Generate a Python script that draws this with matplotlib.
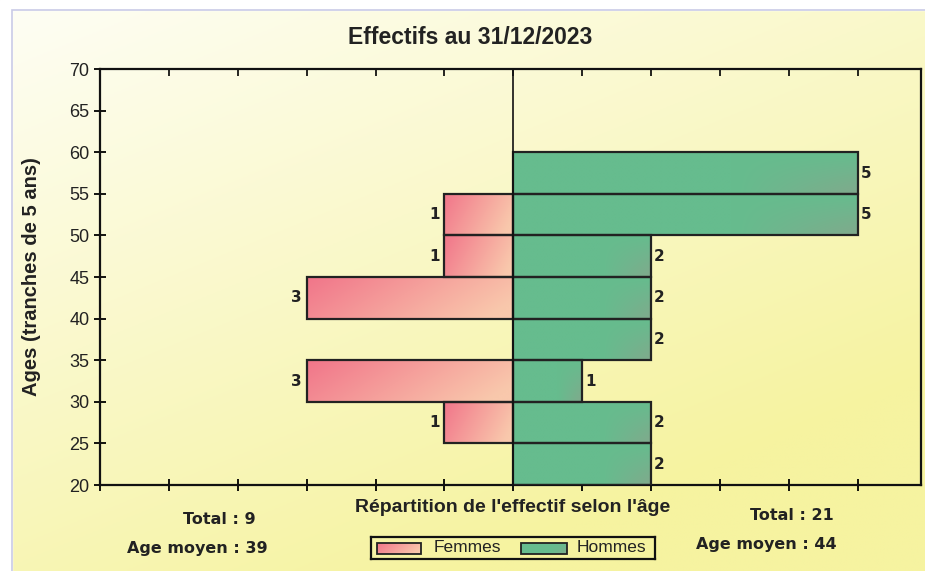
import numpy as np
import matplotlib
matplotlib.use("Agg")
import matplotlib.pyplot as plt
from matplotlib.patches import Rectangle

# ---------------- data ----------------
age_bins = [20, 25, 30, 35, 40, 45, 50, 55]          # lower bound of each 5-year band
femmes = [0, 1, 3, 0, 3, 1, 1, 0]
hommes = [2, 2, 1, 2, 2, 2, 5, 5]
title = "Effectifs au 31/12/2023"
ylabel = "Ages (tranches de 5 ans)"
xlabel = "Répartition de l'effectif selon l'âge"
total_f, age_f = 9, 39
total_h, age_h = 21, 44
yticks = [20, 25, 30, 35, 40, 45, 50, 55, 60, 65, 70]

plt.rcParams['font.family'] = ['Liberation Sans', 'DejaVu Sans']
TXT = '#222222'

W, H = 925, 571
fig = plt.figure(figsize=(W / 100, H / 100), dpi=100)

# background gradient
bg = fig.add_axes([0, 0, 1, 1], zorder=-10)
yy, xx = np.mgrid[0:1:200j, 0:1:300j]
t = np.clip(0.5 * xx + 0.75 * yy, 0, 1)  # yy=0 at top (origin upper)
c0 = np.array([254, 254, 246]) / 255
c1 = np.array([246, 243, 160]) / 255
img = c0[None, None, :] * (1 - t[..., None]) + c1[None, None, :] * t[..., None]
bg.imshow(img, extent=[0, 1, 0, 1], aspect='auto', origin='upper')
bg.set_xlim(0, 1); bg.set_ylim(0, 1)
bg.axis('off')
bg.add_patch(Rectangle((0, 1 - 10 / H), 1, 10 / H, color='white', zorder=1))
bg.add_patch(Rectangle((0, 0), 12 / W, 1, color='white', zorder=1))
bg.add_patch(Rectangle((12 / W, -0.01), 1.0, 1 - 10 / H + 0.01, fill=False,
                       edgecolor='#c9cbe6', lw=1.2, zorder=2))

ax = fig.add_axes([100 / W, 1 - 485 / H, (921 - 100) / W, (485 - 69) / H])
ax.patch.set_alpha(0)

XMIN, XMAX = -6, 5.92
BH = 5

def grad_f():
    yv, xv = np.mgrid[0:1:16j, 0:1:64j]
    a = np.clip(0.85 * xv + 0.25 * yv, 0, 1)
    left = np.array([241, 118, 138]) / 255
    right = np.array([249, 200, 172]) / 255
    return left[None, None, :] * (1 - a[..., None]) + right[None, None, :] * a[..., None]

def grad_h():
    yv, xv = np.mgrid[0:1:16j, 0:1:64j]
    s = np.clip((xv - 0.65) / 0.35, 0, 1) * yv
    base = np.array([102, 188, 142]) / 255
    dark = np.array([128, 170, 140]) / 255
    return base[None, None, :] * (1 - s[..., None]) + dark[None, None, :] * s[..., None]

gf = grad_f()
gh = grad_h()
for y0, f, h in zip(age_bins, femmes, hommes):
    if f > 0:
        ax.imshow(gf, extent=[-f, 0, y0, y0 + BH], aspect='auto', origin='upper',
                  interpolation='bilinear', zorder=2)
        ax.add_patch(Rectangle((-f, y0), f, BH, fill=False, edgecolor=TXT,
                               lw=1.6, zorder=3))
        ax.text(-f - 0.07, y0 + BH / 2, str(f), ha='right', va='center',
                fontsize=11, fontweight='bold', family='DejaVu Sans', color=TXT)
    if h > 0:
        ax.imshow(gh, extent=[0, h, y0, y0 + BH], aspect='auto', origin='upper',
                  interpolation='bilinear', zorder=2)
        ax.add_patch(Rectangle((0, y0), h, BH, fill=False, edgecolor=TXT,
                               lw=1.6, zorder=3))
        ax.text(h + 0.04, y0 + BH / 2, str(h), ha='left', va='center',
                fontsize=11, fontweight='bold', family='DejaVu Sans', color=TXT)

ax.axvline(0, color='#111111', lw=1.2, zorder=4)
ax.set_xlim(XMIN, XMAX)
ax.set_ylim(20, 70)
ax.set_yticks(yticks)
ax.set_yticklabels([str(v) for v in yticks], fontsize=13, color=TXT)
ax.set_xticks(np.arange(-6, 6, 1))
ax.set_xticklabels([])
ax.tick_params(axis='y', direction='inout', length=9, width=1.3, pad=3)
ax.tick_params(axis='x', direction='inout', length=9, width=1.3)
for s in ax.spines.values():
    s.set_linewidth(1.6)
    s.set_color('#111111')
top = ax.secondary_xaxis('top')
top.set_xticks(np.arange(-6, 6, 1))
top.set_xticklabels([])
top.tick_params(direction='in', length=5, width=1.2)
top.spines['top'].set_visible(False)

ax.set_ylabel(ylabel, fontsize=14.5, fontweight='bold', color=TXT)
ax.yaxis.set_label_coords(-0.072, 0.5)

fig.text(470 / W, 1 - 38 / H, title, ha='center', va='center', fontsize=16.5,
         fontweight='bold', color=TXT)
fig.text(513 / W, 1 - 507 / H, xlabel, ha='center', va='center', fontsize=14,
         fontweight='bold', color=TXT)
kw = dict(ha='center', va='center', fontsize=11.5, fontweight='bold',
          family='DejaVu Sans', color=TXT)
fig.text(219 / W, 1 - 520 / H, f"Total : {total_f}", **kw)
fig.text(197 / W, 1 - 548 / H, f"Age moyen : {age_f}", **kw)
fig.text(792 / W, 1 - 516 / H, f"Total : {total_h}", **kw)
fig.text(766 / W, 1 - 545 / H, f"Age moyen : {age_h}", **kw)

# legend
lg = fig.add_axes([371 / W, 1 - 559 / H, (655 - 371) / W, 22 / H])
lg.set_xticks([]); lg.set_yticks([])
lg.patch.set_alpha(0)
for s in lg.spines.values():
    s.set_linewidth(1.6); s.set_color('#111111')
lg.imshow(gf, extent=[6, 50, 5, 16], aspect='auto', origin='upper', zorder=2)
lg.add_patch(Rectangle((6, 5), 44, 11, fill=False, edgecolor=TXT, lw=1.3, zorder=3))
lg.text(63, 11, "Femmes", ha='left', va='center', fontsize=12.5, color=TXT)
lg.imshow(gh, extent=[150, 196, 5, 16], aspect='auto', origin='upper', zorder=2)
lg.add_patch(Rectangle((150, 5), 46, 11, fill=False, edgecolor=TXT, lw=1.3, zorder=3))
lg.text(206, 11, "Hommes", ha='left', va='center', fontsize=12.5, color=TXT)
lg.set_xlim(0, 284); lg.set_ylim(0, 22)

fig.savefig("out.png", dpi=100)
